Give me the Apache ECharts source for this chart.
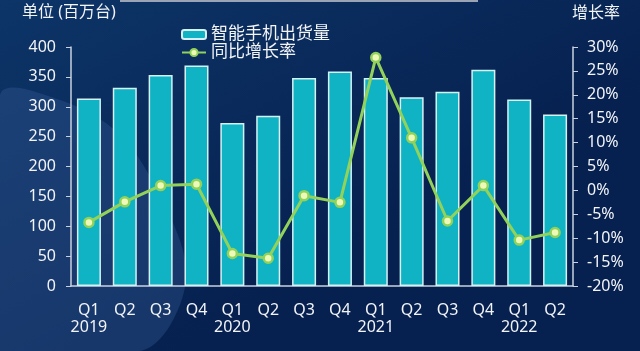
<!DOCTYPE html>
<html lang="zh">
<head>
    <meta charset="UTF-8">
    <script src="https://cdn.jsdelivr.net/npm/echarts@6/dist/echarts.min.js"></script>
    <title>智能手机出货量</title>
    <style>
        html, body { margin: 0; padding: 0; }
        #main { width: 640px; height: 351px; }
    </style>
</head>
<body>
<div id="main"></div>
<script>
    // 数据
    var quarters = ['Q1', 'Q2', 'Q3', 'Q4', 'Q1', 'Q2', 'Q3', 'Q4', 'Q1', 'Q2', 'Q3', 'Q4', 'Q1', 'Q2'];
    var years = ['2019', '', '', '', '2020', '', '', '', '2021', '', '', '', '2022', ''];
    var shipments = [314, 332, 353, 369, 273, 285, 348, 359, 348, 316, 325, 362, 312, 287]; // 百万台
    var growth = [-6.7, -2.4, 1.0, 1.3, -13.2, -14.2, -1.1, -2.5, 27.8, 11.0, -6.4, 1.0, -10.4, -8.8]; // %
    var leftTicks = [0, 400, 50];
    var rightTicks = [-20, 30, 5];

    var periods = [];
    var yr = '';
    for (var i = 0; i < quarters.length; i++) {
        if (years[i]) yr = years[i];
        periods.push(yr + quarters[i]);
    }

    var font = '"Noto Sans", "Noto Sans CJK SC", sans-serif';
    var textColor = '#f2f4f8';
    var axisColor = '#c9d2de';

    var chart = echarts.init(document.getElementById('main'));
    var option = {
        backgroundColor: {
            type: 'linear', x: 0, y: 0, x2: 0.3, y2: 1,
            colorStops: [
                {offset: 0, color: '#0d3568'},
                {offset: 1, color: '#06204f'}
            ]
        },
        textStyle: {fontFamily: font},
        animation: false,
        graphic: [
            { // 左下方较亮的区域
                type: 'polygon', z: 0, silent: true,
                shape: {
                    smooth: 0.35,
                    points: [[0, 95], [60, 100], [120, 135], [162, 200], [186, 268], [172, 322], [140, 351], [0, 351]]
                },
                style: {fill: 'rgba(60,100,160,0.32)'}
            },
            { // 顶部灰线
                type: 'rect', z: 0, silent: true,
                shape: {x: 120, y: 0, width: 358, height: 2},
                style: {fill: '#9aa4b4'}
            },
            {
                type: 'text', left: 22, top: 4,
                style: {text: '单位 (百万台)', fill: textColor, font: '16px ' + font}
            },
            {
                type: 'text', left: 572, top: 5,
                style: {text: '增长率', fill: textColor, font: '16px ' + font}
            }
        ],
        legend: [
            {
                data: ['智能手机出货量'],
                left: 176, top: 21,
                itemWidth: 24, itemHeight: 9,
                textStyle: {color: textColor, fontSize: 17, fontFamily: font}
            },
            {
                data: ['同比增长率'],
                left: 176, top: 39,
                itemWidth: 24, itemHeight: 9,
                textStyle: {color: textColor, fontSize: 17, fontFamily: font}
            }
        ],
        grid: {left: 71, right: 67, top: 47, bottom: 65},
        xAxis: {
            type: 'category',
            data: periods,
            axisLine: {lineStyle: {color: axisColor, width: 1.5}},
            axisTick: {show: false},
            axisLabel: {
                color: textColor, fontSize: 16, lineHeight: 17, margin: 15.5,
                interval: 0,
                formatter: function (v, idx) {
                    return quarters[idx] + '\n' + years[idx];
                }
            }
        },
        yAxis: [
            {
                type: 'value',
                min: leftTicks[0], max: leftTicks[1], interval: leftTicks[2],
                axisLine: {show: true, lineStyle: {color: axisColor, width: 1.5}},
                axisTick: {show: true, length: 5, lineStyle: {color: axisColor}},
                splitLine: {show: false},
                axisLabel: {color: textColor, fontSize: 16, margin: 15}
            },
            {
                type: 'value',
                min: rightTicks[0], max: rightTicks[1], interval: rightTicks[2],
                position: 'right',
                axisLine: {show: true, lineStyle: {color: axisColor, width: 1.5}},
                axisTick: {show: true, length: 5, lineStyle: {color: axisColor}},
                splitLine: {show: false},
                axisLabel: {color: textColor, fontSize: 16, margin: 14, formatter: '{value}%'}
            }
        ],
        series: [
            {
                name: '智能手机出货量',
                type: 'bar',
                data: shipments,
                barWidth: '67%',
                itemStyle: {color: '#0fb3c3', borderColor: '#d6f1f5', borderWidth: 1.5}
            },
            {
                name: '同比增长率',
                type: 'line',
                yAxisIndex: 1,
                data: growth,
                symbol: 'circle',
                symbolSize: 9,
                lineStyle: {color: '#93d25a', width: 3},
                itemStyle: {color: '#eef8b8', borderColor: '#93d25a', borderWidth: 2.5}
            }
        ]
    };
    chart.setOption(option);
</script>
</body>
</html>
